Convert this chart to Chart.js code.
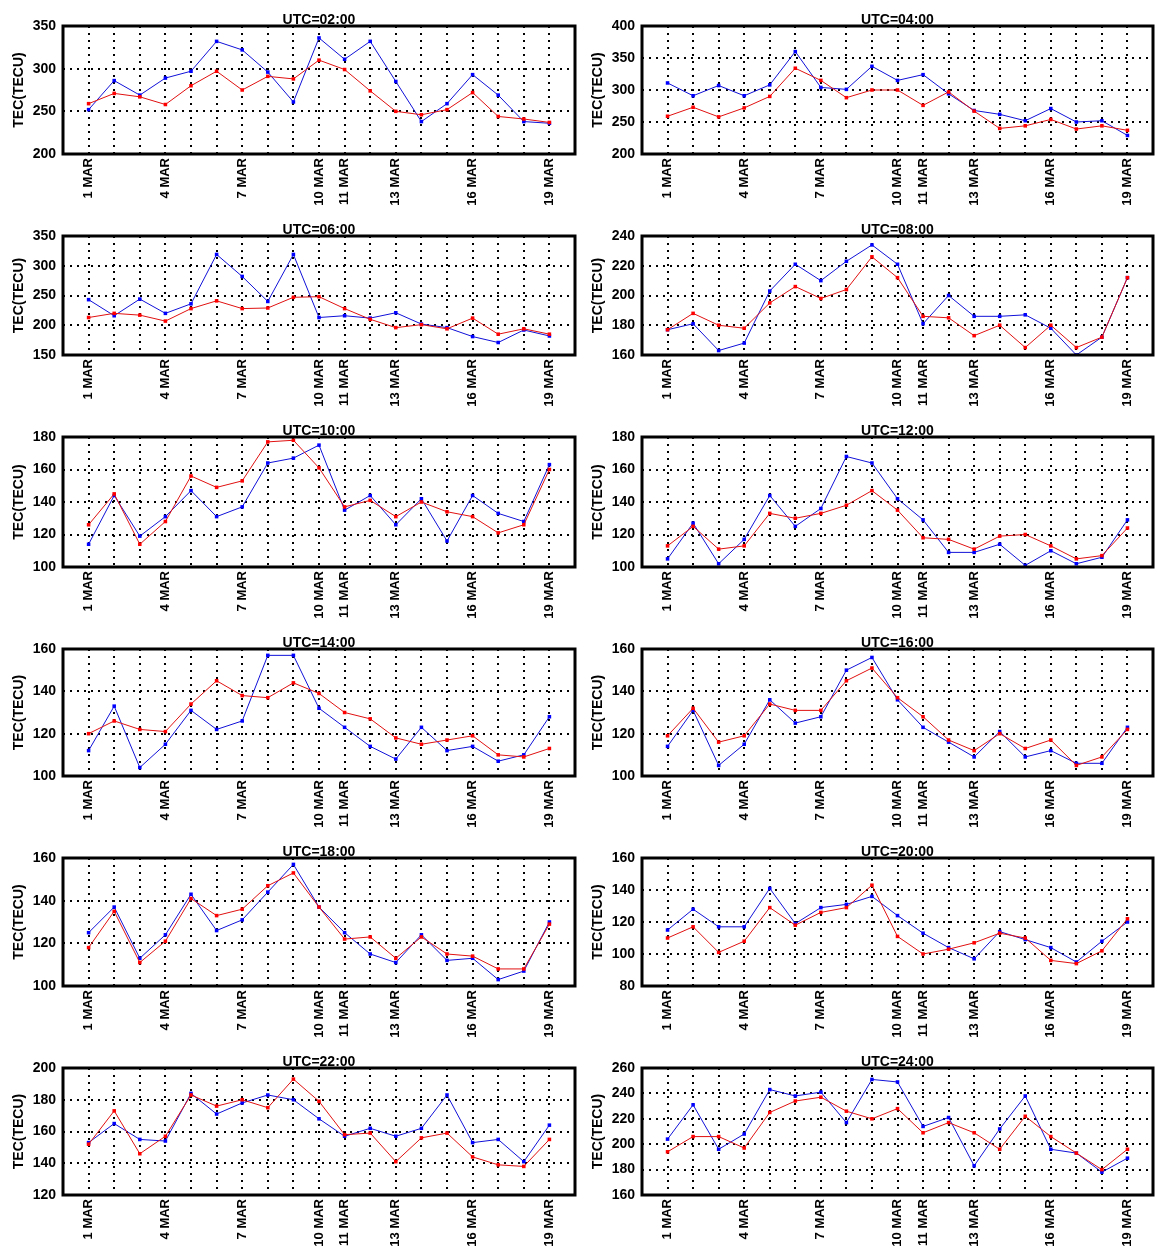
<!DOCTYPE html>
<html>
<head>
<meta charset="utf-8">
<script src="https://cdn.jsdelivr.net/npm/chart.js@4.4.0/dist/chart.umd.min.js"></script>
<style>
  body { margin: 0; background: #fff; }
  #grid {
    width: 1158px; height: 1251px;
    display: grid;
    grid-template-columns: 579px 579px;
    grid-template-rows: 210px 201px 212px 209px 210px 209px;
  }
  .cell { position: relative; }
  .cell canvas { position: absolute; left: 0; top: 0; }
</style>
</head>
<body>
<div id="grid"></div>
<script>
// dias de março
const days = [1, 2, 3, 4, 5, 6, 7, 8, 9, 10, 11, 12, 13, 14, 15, 16, 17, 18, 19];
const dayLabels = ['1 MAR', '', '', '4 MAR', '', '', '7 MAR', '', '', '10 MAR', '11 MAR', '',
                   '13 MAR', '', '', '16 MAR', '', '', '19 MAR'];

const panelTitles = ['UTC=02:00', 'UTC=04:00', 'UTC=06:00', 'UTC=08:00', 'UTC=10:00', 'UTC=12:00',
                     'UTC=14:00', 'UTC=16:00', 'UTC=18:00', 'UTC=20:00', 'UTC=22:00', 'UTC=24:00'];
const yMins  = [200, 200, 150, 160, 100, 100, 100, 100, 100, 80, 120, 160];
const yMaxs  = [350, 400, 350, 240, 180, 180, 160, 160, 160, 160, 200, 260];
const ySteps = [50, 50, 50, 20, 20, 20, 20, 20, 20, 20, 20, 20];

// TEC (TECU) - série azul
const blue02 = [252, 286, 269, 289, 297, 332, 322, 296, 261, 336, 311, 332, 285, 238, 259, 293, 269, 238, 236];
const blue04 = [311, 291, 307, 291, 308, 360, 304, 301, 337, 315, 324, 294, 268, 262, 252, 271, 250, 252, 229];
const blue06 = [243, 216, 244, 220, 236, 319, 282, 240, 319, 213, 216, 212, 221, 202, 196, 181, 171, 192, 182];
const blue08 = [177, 181, 163, 168, 203, 221, 210, 223, 234, 221, 181, 200, 186, 186, 187, 178, 160, 172, 212];
const blue10 = [114, 144, 119, 131, 147, 131, 137, 164, 167, 175, 135, 144, 126, 142, 116, 144, 133, 128, 163];
const blue12 = [105, 127, 102, 117, 144, 125, 136, 168, 164, 142, 129, 109, 109, 114, 101, 110, 102, 106, 129];
const blue14 = [112, 133, 104, 115, 131, 122, 126, 157, 157, 132, 123, 114, 108, 123, 112, 114, 107, 110, 128];
const blue16 = [114, 131, 105, 115, 136, 125, 128, 150, 156, 136, 123, 116, 109, 121, 109, 112, 106, 106, 123];
const blue18 = [125, 137, 113, 124, 143, 126, 131, 144, 157, 137, 125, 115, 111, 124, 112, 113, 103, 107, 130];
const blue20 = [115, 128, 117, 117, 141, 119, 129, 131, 136, 124, 113, 104, 97, 114, 109, 104, 95, 108, 120];
const blue22 = [153, 165, 155, 154, 184, 171, 178, 183, 180, 168, 157, 162, 157, 162, 183, 153, 155, 141, 164];
const blue24 = [204, 231, 196, 208, 243, 238, 241, 217, 251, 249, 214, 221, 183, 212, 238, 196, 193, 178, 189];

// TEC (TECU) - série vermelha
const red02 = [259, 271, 267, 258, 280, 297, 275, 291, 288, 310, 299, 274, 250, 246, 252, 272, 244, 241, 237];
const red04 = [259, 273, 258, 272, 290, 334, 315, 288, 300, 300, 276, 297, 267, 240, 244, 254, 239, 244, 237];
const red06 = [213, 220, 217, 207, 228, 241, 228, 229, 247, 248, 228, 210, 196, 201, 194, 212, 185, 194, 185];
const red08 = [177, 188, 180, 178, 195, 206, 198, 204, 226, 212, 186, 185, 173, 180, 165, 180, 165, 172, 212];
const red10 = [126, 145, 114, 128, 156, 149, 153, 177, 178, 161, 137, 141, 131, 140, 134, 131, 121, 126, 160];
const red12 = [113, 125, 111, 113, 133, 130, 133, 138, 147, 135, 118, 117, 111, 119, 120, 113, 105, 107, 124];
const red14 = [120, 126, 122, 121, 134, 145, 138, 137, 144, 139, 130, 127, 118, 115, 117, 119, 110, 109, 113];
const red16 = [119, 132, 116, 119, 134, 131, 131, 145, 151, 137, 128, 117, 112, 120, 113, 117, 105, 109, 122];
const red18 = [118, 135, 111, 121, 141, 133, 136, 147, 153, 137, 122, 123, 113, 123, 115, 114, 108, 108, 129];
const red20 = [110, 117, 101, 108, 129, 118, 126, 129, 143, 111, 100, 103, 107, 113, 110, 96, 94, 102, 122];
const red22 = [152, 173, 146, 157, 183, 176, 180, 175, 193, 179, 158, 159, 141, 156, 159, 144, 139, 138, 155];
const red24 = [194, 206, 206, 197, 225, 234, 237, 226, 220, 228, 209, 217, 209, 196, 222, 206, 193, 180, 196];

const blueSeries = [blue02, blue04, blue06, blue08, blue10, blue12, blue14, blue16, blue18, blue20, blue22, blue24];
const redSeries  = [red02, red04, red06, red08, red10, red12, red14, red16, red18, red20, red22, red24];

const FONT = "'Liberation Sans', Arial, sans-serif";

// moldura preta e título centrado sobre a área do gráfico
const boxPlugin = {
    id: 'box',
    afterDraw(chart, args, opts) {
        const {ctx, chartArea: a} = chart;
        ctx.save();
        ctx.lineWidth = 3;
        ctx.strokeStyle = '#000';
        ctx.strokeRect(a.left, a.top, a.right - a.left, a.bottom - a.top);
        ctx.fillStyle = '#000';
        ctx.font = 'bold 14px ' + FONT;
        ctx.textAlign = 'center';
        ctx.textBaseline = 'bottom';
        ctx.fillText(opts.text, (a.left + a.right) / 2, a.top + 1);
        ctx.restore();
    }
};

const gridEl = document.getElementById('grid');

panelTitles.forEach((title, i) => {
    const cell = document.createElement('div');
    cell.className = 'cell';
    gridEl.appendChild(cell);
    const h = cell.getBoundingClientRect().height;
    const canvas = document.createElement('canvas');
    canvas.width = 579;
    canvas.height = h;
    canvas.style.width = '579px';
    canvas.style.height = h + 'px';
    cell.appendChild(canvas);

    new Chart(canvas, {
        type: 'line',
        data: {
            datasets: [
                {
                    label: 'vermelho',
                    data: days.map((d, k) => ({x: d, y: redSeries[i][k]})),
                    borderColor: '#e01010',
                    backgroundColor: '#ff0000',
                    borderWidth: 1,
                    pointStyle: 'rect',
                    pointRadius: 2.5,
                    pointBorderWidth: 0
                },
                {
                    label: 'azul',
                    data: days.map((d, k) => ({x: d, y: blueSeries[i][k]})),
                    borderColor: '#1010d8',
                    backgroundColor: '#0000ff',
                    borderWidth: 1,
                    pointStyle: 'rect',
                    pointRadius: 2.5,
                    pointBorderWidth: 0
                }
            ]
        },
        options: {
            responsive: false,
            animation: false,
            layout: { padding: { top: 26, right: i % 2 ? 5 : 2, left: 0, bottom: 0 } },
            plugins: {
                legend: { display: false },
                tooltip: { enabled: false },
                box: { text: title }
            },
            scales: {
                x: {
                    type: 'linear',
                    min: 0,
                    max: 20,
                    afterBuildTicks: scale => { scale.ticks = days.map(d => ({value: d})); },
                    afterFit: scale => { scale.height = 56; },
                    ticks: {
                        autoSkip: false,
                        maxRotation: 90,
                        minRotation: 90,
                        padding: 4,
                        color: '#000',
                        font: { family: FONT, size: 13, weight: 'bold' },
                        callback: v => dayLabels[days.indexOf(v)] || ''
                    },
                    grid: { color: '#000', lineWidth: 2, drawTicks: false },
                    border: { display: false, dash: [2, 5] }
                },
                y: {
                    min: yMins[i],
                    max: yMaxs[i],
                    afterFit: scale => { scale.width = 63; },
                    ticks: {
                        stepSize: ySteps[i],
                        padding: 7,
                        color: '#000',
                        font: { family: FONT, size: 14, weight: 'bold' }
                    },
                    title: {
                        display: true,
                        text: 'TEC(TECU)',
                        color: '#000',
                        padding: { top: 11, bottom: 0 },
                        font: { family: FONT, size: 14, weight: 'bold', lineHeight: '16px' }
                    },
                    grid: { color: '#000', lineWidth: 2, drawTicks: false },
                    border: { display: false, dash: [2, 5] }
                }
            }
        },
        plugins: [boxPlugin]
    });
});
</script>
</body>
</html>
